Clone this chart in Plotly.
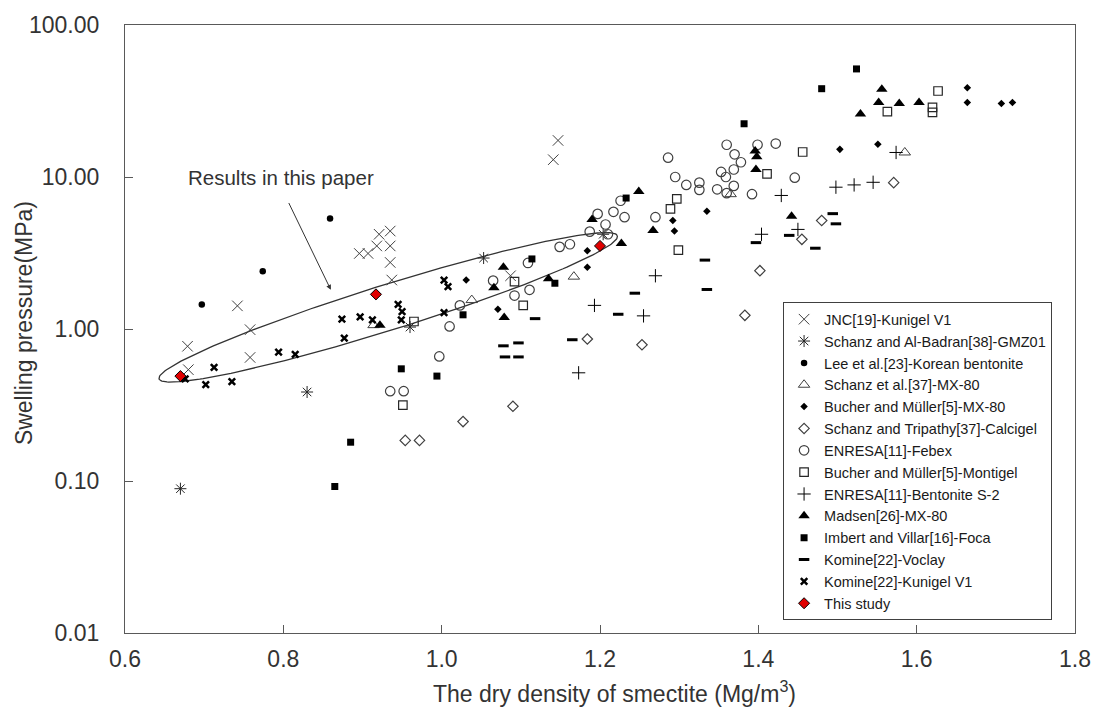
import numpy as np
import plotly.graph_objects as go

# ---------------- data (dry density of smectite, swelling pressure) ----------------
jnc_x = [0.679, 0.680, 0.742, 0.758, 0.758, 0.896, 0.907, 0.918, 0.921, 0.935, 0.935, 0.935, 0.937, 1.087, 1.141, 1.147]
jnc_y = [0.77, 0.54, 1.42, 0.99, 0.65, 3.14, 3.14, 3.52, 4.20, 4.41, 3.52, 2.74, 2.10, 2.24, 13.0, 17.4]

gmz_x = [0.670, 0.830, 0.960, 1.053, 1.204]
gmz_y = [0.089, 0.385, 1.03, 2.93, 4.20]

lee_x = [0.697, 0.774, 0.859]
lee_y = [1.45, 2.40, 5.33]

schanz_mx_x = [0.914, 1.038, 1.167, 1.365, 1.585]
schanz_mx_y = [1.06, 1.55, 2.21, 7.71, 14.5]

bucher_mx_x = [1.031, 1.071, 1.184, 1.184, 1.292, 1.294, 1.335, 1.503, 1.551, 1.664, 1.664, 1.707, 1.721]
bucher_mx_y = [2.10, 1.35, 3.27, 2.55, 5.17, 4.41, 5.95, 15.2, 16.4, 38.7, 30.9, 30.4, 30.9]

calcigel_x = [0.954, 0.972, 1.027, 1.090, 1.184, 1.253, 1.383, 1.402, 1.455, 1.480, 1.571]
calcigel_y = [0.185, 0.185, 0.246, 0.31, 0.86, 0.787, 1.23, 2.42, 3.89, 5.17, 9.18]

febex_x = [0.935, 0.952, 0.997, 1.010, 1.023, 1.065, 1.092, 1.109, 1.111, 1.149,
           1.162, 1.187, 1.197, 1.207, 1.210, 1.217, 1.226, 1.231, 1.270, 1.286,
           1.295, 1.309, 1.3255, 1.3255, 1.348, 1.353, 1.359, 1.360, 1.360, 1.369,
           1.369, 1.370, 1.378, 1.392, 1.399, 1.422, 1.446]
febex_y = [0.39, 0.39, 0.66, 1.04, 1.43, 2.08, 1.66, 2.72, 1.81, 3.47,
           3.61, 4.37, 5.72, 4.87, 4.20, 5.90, 6.98, 5.44, 5.44, 13.4,
           10.0, 8.87, 9.18, 8.23, 8.30, 10.8, 10.0, 16.3, 7.83, 8.74,
           11.2, 14.1, 12.5, 7.71, 16.3, 16.6, 9.9]

montigel_x = [0.951, 0.965, 1.092, 1.103, 1.289, 1.297, 1.299, 1.411, 1.456, 1.563, 1.620, 1.620, 1.627]
montigel_y = [0.316, 1.12, 2.05, 1.43, 6.17, 7.19, 3.30, 10.5, 14.6, 26.9, 28.7, 26.6, 36.8]

s2_x = [1.173, 1.193, 1.255, 1.270, 1.404, 1.429, 1.450, 1.498, 1.521, 1.545, 1.574]
s2_y = [0.515, 1.43, 1.22, 2.24, 4.20, 7.56, 4.52, 8.57, 8.87, 9.23, 14.5]

madsen_x = [0.922, 1.066, 1.078, 1.079, 1.135, 1.190, 1.227, 1.249, 1.267, 1.396, 1.397, 1.398, 1.442, 1.529, 1.552, 1.556, 1.578, 1.603]
madsen_y = [1.06, 1.87, 2.55, 1.19, 2.14, 5.25, 3.65, 8.02, 4.45, 14.8, 11.2, 13.6, 5.52, 26.0, 30.9, 37.8, 30.4, 30.9]

foca_x = [0.865, 0.885, 0.949, 0.994, 1.027, 1.114, 1.143, 1.233, 1.382, 1.480, 1.524]
foca_y = [0.092, 0.18, 0.547, 0.49, 1.24, 2.89, 2.00, 7.27, 22.4, 38.1, 51.4]

voclay_x = [1.078, 1.097, 1.080, 1.097, 1.118, 1.165, 1.223, 1.244, 1.3325, 1.335, 1.397, 1.439, 1.472, 1.494, 1.498]
voclay_y = [0.775, 0.81, 0.655, 0.655, 1.17, 0.85, 1.25, 1.72, 2.84, 1.82, 3.70, 4.13, 3.40, 5.74, 4.92]

kunigel_x = [0.676, 0.702, 0.7125, 0.735, 0.794, 0.815, 0.874, 0.877, 0.897, 0.9125, 0.945, 0.949, 0.950, 1.003, 1.003, 1.008]
kunigel_y = [0.47, 0.43, 0.56, 0.45, 0.705, 0.68, 1.16, 0.87, 1.20, 1.15, 1.45, 1.15, 1.30, 2.10, 1.28, 1.90]

study_x = [0.670, 0.917, 1.200]
study_y = [0.49, 1.69, 3.52]

names = [
    "JNC[19]-Kunigel V1",
    "Schanz and Al-Badran[38]-GMZ01",
    "Lee et al.[23]-Korean bentonite",
    "Schanz et al.[37]-MX-80",
    "Bucher and Müller[5]-MX-80",
    "Schanz and Tripathy[37]-Calcigel",
    "ENRESA[11]-Febex",
    "Bucher and Müller[5]-Montigel",
    "ENRESA[11]-Bentonite S-2",
    "Madsen[26]-MX-80",
    "Imbert and Villar[16]-Foca",
    "Komine[22]-Voclay",
    "Komine[22]-Kunigel V1",
    "This study",
]
xs = [jnc_x, gmz_x, lee_x, schanz_mx_x, bucher_mx_x, calcigel_x, febex_x, montigel_x,
      s2_x, madsen_x, foca_x, voclay_x, kunigel_x, study_x]
ys = [jnc_y, gmz_y, lee_y, schanz_mx_y, bucher_mx_y, calcigel_y, febex_y, montigel_y,
      s2_y, madsen_y, foca_y, voclay_y, kunigel_y, study_y]

# ---------------- styles ----------------
GRAY = "#404040"
markers = [
    dict(symbol="x-thin-open", size=10.5, color=GRAY, line=dict(color=GRAY, width=1)),
    dict(symbol="asterisk-open", size=10, color="#262626", line=dict(color="#262626", width=1)),
    dict(symbol="circle", size=6.5, color="black", line=dict(width=0)),
    dict(symbol="triangle-up-open", size=10, color=GRAY, line=dict(color=GRAY, width=1)),
    dict(symbol="diamond", size=5.8, color="black", line=dict(width=0)),
    dict(symbol="diamond-open", size=8, color=GRAY, line=dict(color=GRAY, width=1.2)),
    dict(symbol="circle-open", size=9.5, color=GRAY, line=dict(color=GRAY, width=1.2)),
    dict(symbol="square-open", size=8.5, color="#262626", line=dict(color="#262626", width=1.2)),
    dict(symbol="cross-thin-open", size=9.5, color="black", line=dict(color="black", width=1)),
    dict(symbol="triangle-up", size=10, color="black", line=dict(width=0)),
    dict(symbol="square", size=7, color="black", line=dict(width=0)),
    dict(symbol="line-ew-open", size=7.5, color="black", line=dict(color="black", width=3)),
    dict(symbol="x-thin-open", size=6.5, color="black", line=dict(color="black", width=2.5)),
    dict(symbol="diamond", size=8.5, color="#e00000", line=dict(color="black", width=1)),
]

fig = go.Figure()

# ---------------- highlight ellipse ("Results in this paper") ----------------
X_RANGE = (0.6, 1.8)
LOG_RANGE = (-2, 2)
PLOT_W, PLOT_H = 960, 614
px_per_x = PLOT_W / (X_RANGE[1] - X_RANGE[0])
px_per_dec = PLOT_H / (LOG_RANGE[1] - LOG_RANGE[0])
ell_left = (0.643, 0.47)
ell_right = (1.222, 4.10)
ell_half_width_px = 23
p1 = np.array([ell_left[0] * px_per_x, np.log10(ell_left[1]) * px_per_dec])
p2 = np.array([ell_right[0] * px_per_x, np.log10(ell_right[1]) * px_per_dec])
c = (p1 + p2) / 2
a = np.linalg.norm(p2 - p1) / 2
u = (p2 - p1) / (2 * a)
v = np.array([-u[1], u[0]])
t = np.linspace(0, 2 * np.pi, 241)
pts = c[None, :] + a * np.cos(t)[:, None] * u[None, :] + ell_half_width_px * np.sin(t)[:, None] * v[None, :]
fig.add_trace(go.Scatter(x=pts[:, 0] / px_per_x, y=10 ** (pts[:, 1] / px_per_dec), mode="lines",
                         line=dict(color="#333333", width=1.3), showlegend=False, hoverinfo="skip"))

for n, x, y, m in zip(names, xs, ys, markers):
    fig.add_trace(go.Scatter(x=x, y=y, mode="markers", name=n, marker=m))

FONT = "Arial, Liberation Sans, sans-serif"
TXT = "#333333"

fig.update_layout(
    width=1103, height=709,
    margin=dict(l=125, r=18, t=19, b=76),
    paper_bgcolor="white", plot_bgcolor="white",
    font=dict(family=FONT, color=TXT),
    showlegend=True,
    legend=dict(
        x=(790 - 125) / 960, y=(633 - 299) / 614, xanchor="left", yanchor="top",
        bgcolor="white", bordercolor="#404040", borderwidth=1,
        font=dict(family=FONT, size=14.5, color="#1a1a1a"),
        tracegroupgap=0,
    ),
    xaxis=dict(
        range=list(X_RANGE), dtick=0.2, tick0=0.6, tickformat=".1f",
        showgrid=False, zeroline=False,
        showline=True, linecolor="#595959", linewidth=1.3, mirror=True,
        ticks="inside", ticklen=8, tickcolor="#595959", tickwidth=1,
        tickfont=dict(size=23, color=TXT), ticklabelstandoff=5,
    ),
    yaxis=dict(
        type="log", range=list(LOG_RANGE),
        tickvals=[0.01, 0.1, 1, 10, 100],
        ticktext=["0.01", "0.10", "1.00", "10.00", "100.00"],
        showgrid=False, zeroline=False,
        showline=True, linecolor="#595959", linewidth=1.3, mirror=True,
        ticks="inside", ticklen=8, tickcolor="#595959", tickwidth=1,
        tickfont=dict(size=23, color=TXT), ticklabelstandoff=20,
    ),
)

# axis titles
fig.add_annotation(text="The dry density of smectite (Mg/m<sup>3</sup>)", xref="paper", yref="paper",
                   x=(620 - 125) / 960, y=(633 - 693) / 614, xanchor="center", yanchor="middle",
                   showarrow=False, font=dict(size=23, color=TXT))
fig.add_annotation(text="Swelling pressure(MPa)", xref="paper", yref="paper", textangle=-90,
                   x=(23 - 125) / 960, y=(633 - 320) / 614, xanchor="center", yanchor="middle",
                   showarrow=False, font=dict(size=23, color=TXT))

# callout
fig.add_annotation(text="Results in this paper", xref="x", yref="y",
                   x=0.6775, y=np.log10(10.0), xanchor="left", yanchor="middle",
                   showarrow=False, font=dict(size=20.5, color=TXT))
fig.add_annotation(text="", xref="x", yref="y", axref="x", ayref="y",
                   x=0.860, y=np.log10(1.81), ax=0.806, ay=np.log10(6.9),
                   showarrow=True, arrowhead=2, arrowsize=1, arrowwidth=1, arrowcolor="#333333")

fig.write_html("out.html")
